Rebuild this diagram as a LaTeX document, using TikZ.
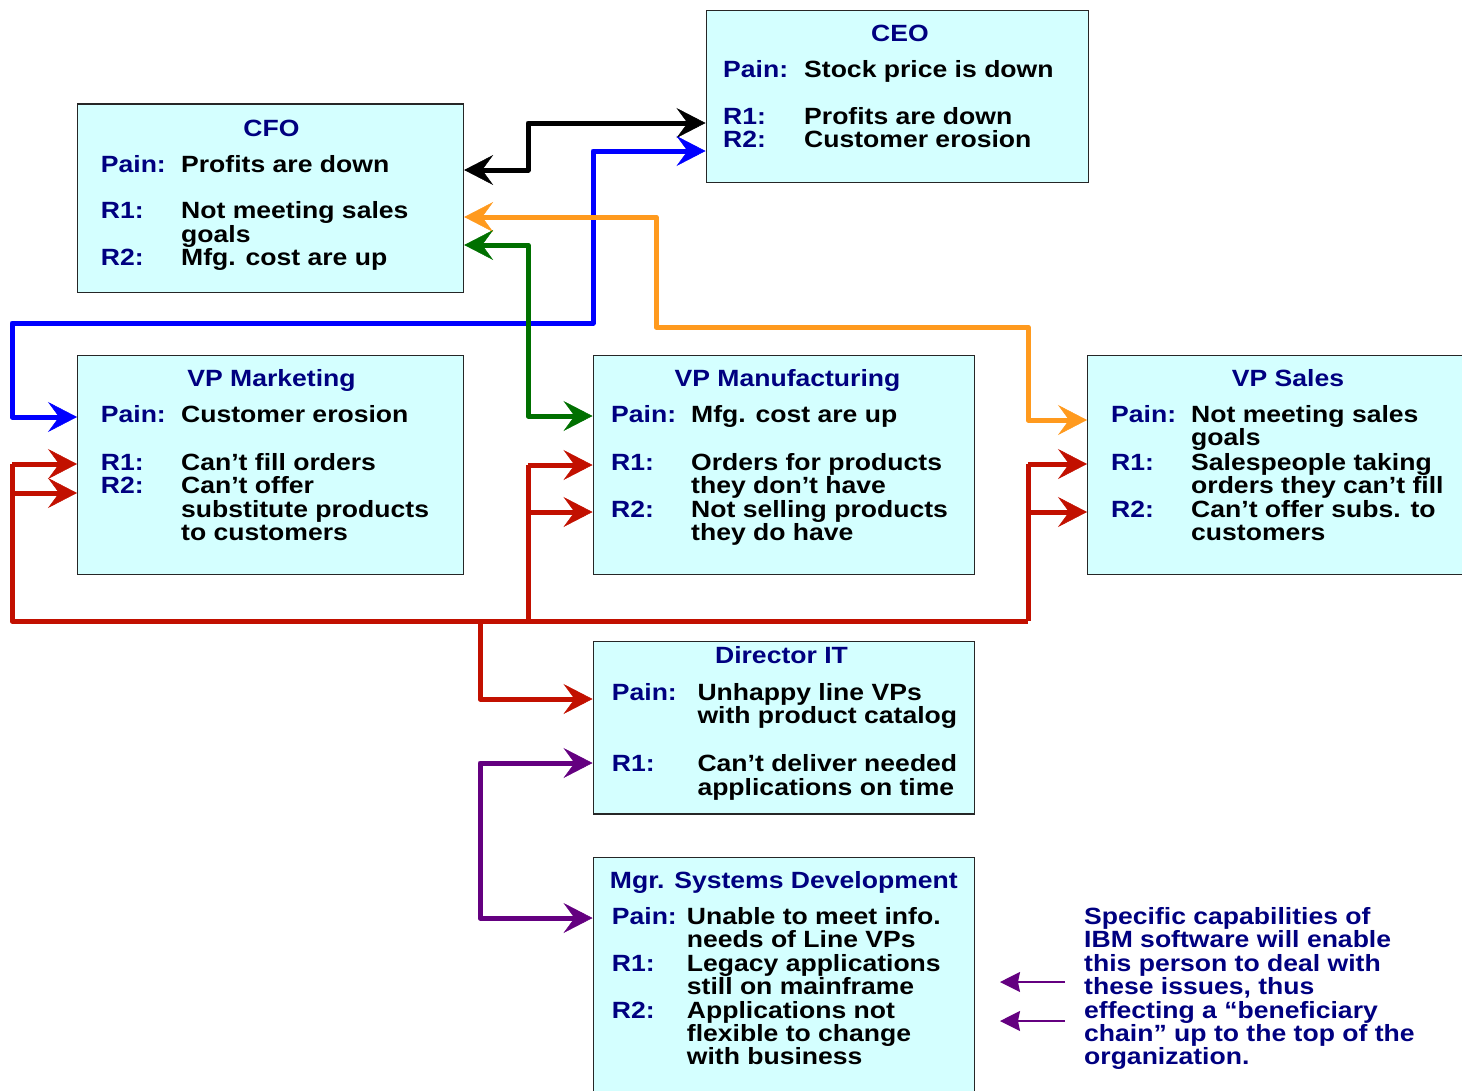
\documentclass[tikz,border=0pt]{standalone}
\usepackage{fontspec}
\setmainfont{Liberation Sans}[FakeStretch=1.13]
\usetikzlibrary{arrows.meta}

\definecolor{boxfill}{HTML}{D4FFFF}
\definecolor{navy}{HTML}{000080}
\definecolor{cblue}{HTML}{0000FF}
\definecolor{corange}{HTML}{FF9A1E}
\definecolor{cgreen}{HTML}{007000}
\definecolor{cred}{HTML}{C21000}
\definecolor{cpurple}{HTML}{640080}

% stacked lines, baseline of the box = baseline of the first line
\newcommand\ml[1]{\vtop{\lineskiplimit=-100pt\let\\\cr\halign{##\hfil\cr#1\crcr}}}

\tikzset{
  role/.style={draw=black!85, line width=1.2pt, fill=boxfill, anchor=north west, inner sep=0pt},
  head/.style={text=navy, anchor=base, inner sep=0pt},
  lab/.style={text=navy, anchor=base west, inner sep=0pt},
  txt/.style={text=black, anchor=base west, inner sep=0pt},
  tip/.tip={Stealth[length=29pt,width=30pt,inset=11pt,line width=0.5pt]},
  link/.style={line width=5pt, line join=round, tip-tip},
  feed/.style={line width=5pt, line join=round, -tip},
  bus/.style={line width=5pt, line join=round},
  hint/.style={line width=1.5pt, cpurple, -{Stealth[length=20pt,width=20pt,inset=2pt]}},
}

\begin{document}
\begin{tikzpicture}[x=1pt, y=-1pt, font=\fontsize{23.5}{23.4}\selectfont\bfseries]
\clip (0,0) rectangle (1462,1090);

% ---------- role boxes ----------
\node[role, minimum width=382pt, minimum height=172pt]   (ceo)   at (705.5,9.5) {};
\node[role, minimum width=386pt, minimum height=188.5pt] (cfo)   at (77,103.3) {};
\node[role, minimum width=386pt, minimum height=219.5pt] (mkt)   at (77,354.5) {};
\node[role, minimum width=381.5pt, minimum height=219.5pt] (mfg) at (592.5,354.5) {};
\node[role, minimum width=402pt, minimum height=219.5pt] (sales) at (1087,354.5) {};
\node[role, minimum width=381.5pt, minimum height=172.3pt] (dit) at (592.5,641) {};
\node[role, minimum width=381.5pt, minimum height=243pt] (msd)   at (592.5,857) {};

% ---------- CEO ----------
\node[head] (ceoT) at (900,41.7) {CEO};
\node[lab] (ceoP)  at (723,77.7) {Pain:};
\node[txt] (ceoPt) at (804,77.7) {Stock price is down};
\node[lab] (ceoR)  at (723,124.3) {\ml{R1:\\R2:}};
\node[txt] (ceoRt) at (804,124.3) {\ml{Profits are down\\Customer erosion}};

% ---------- CFO ----------
\node[head] (cfoT) at (271.5,136) {CFO};
\node[lab] (cfoP)   at (100.7,172) {Pain:};
\node[txt] (cfoPt)  at (181,172) {Profits are down};
\node[lab] (cfoR1)  at (100.7,218.7) {R1:};
\node[txt] (cfoR1t) at (181,218.7) {\ml{Not meeting sales\\goals}};
\node[lab] (cfoR2)  at (100.7,265.5) {R2:};
\node[txt] (cfoR2t) at (181,265.5) {Mfg. cost are up};

% ---------- VP Marketing ----------
\node[head] (mktT) at (271.5,386.5) {VP Marketing};
\node[lab] (mktP)  at (100.7,422.5) {Pain:};
\node[txt] (mktPt) at (181,422.5) {Customer erosion};
\node[lab] (mktR)  at (100.7,470.5) {\ml{R1:\\R2:}};
\node[txt] (mktRt) at (181,470.5) {\ml{Can’t fill orders\\Can’t offer\\substitute products\\to customers}};

% ---------- VP Manufacturing ----------
\node[head] (mfgT) at (787.5,386.5) {VP Manufacturing};
\node[lab] (mfgP)   at (611,422.5) {Pain:};
\node[txt] (mfgPt)  at (691,422.5) {Mfg. cost are up};
\node[lab] (mfgR1)  at (611,470.5) {R1:};
\node[txt] (mfgR1t) at (691,470.5) {\ml{Orders for products\\they don’t have}};
\node[lab] (mfgR2)  at (611,517.3) {R2:};
\node[txt] (mfgR2t) at (691,517.3) {\ml{Not selling products\\they do have}};

% ---------- VP Sales ----------
\node[head] (salT) at (1288,386.5) {VP Sales};
\node[lab] (salP)   at (1111,422.5) {Pain:};
\node[txt] (salPt)  at (1191,422.5) {\ml{Not meeting sales\\goals}};
\node[lab] (salR1)  at (1111,470.5) {R1:};
\node[txt] (salR1t) at (1191,470.5) {\ml{Salespeople taking\\orders they can’t fill}};
\node[lab] (salR2)  at (1111,517.3) {R2:};
\node[txt] (salR2t) at (1191,517.3) {\ml{Can’t offer subs. to\\customers}};

% ---------- Director IT ----------
\node[head] (ditT) at (781.5,663) {Director IT};
\node[lab] (ditP)  at (611.7,700) {Pain:};
\node[txt] (ditPt) at (697.3,700) {\ml{Unhappy line VPs\\with product catalog}};
\node[lab] (ditR)  at (611.7,771.7) {R1:};
\node[txt] (ditRt) at (697.3,771.7) {\ml{Can’t deliver needed\\applications on time}};

% ---------- Mgr. Systems Development ----------
\node[head] (msdT) at (msd.north |- 0,888) {Mgr. Systems Development};
\node[lab] (msdP)   at (611.7,924.5) {Pain:};
\node[txt] (msdPt)  at (686.7,924.5) {\ml{Unable to meet info.\\needs of Line VPs}};
\node[lab] (msdR1)  at (611.7,971.3) {R1:};
\node[txt] (msdR1t) at (686.7,971.3) {\ml{Legacy applications\\still on mainframe}};
\node[lab] (msdR2)  at (611.7,1018.1) {R2:};
\node[txt] (msdR2t) at (686.7,1018.1) {\ml{Applications not\\flexible to change\\with business}};

% ---------- side note ----------
\node[lab] (note) at (1084,924.5) {\ml{Specific capabilities of\\IBM software will enable\\this person to deal with\\these issues, thus\\effecting a “beneficiary\\chain” up to the top of the\\organization.}};
\coordinate (h1s) at (1065,982);
\coordinate (h1e) at (1000,982);
\coordinate (h2s) at (1065,1021);
\coordinate (h2e) at (1000,1021);
\draw[hint] (h1s) -- (h1e);
\draw[hint] (h2s) -- (h2e);

% ---------- connectors ----------
% CFO <-> CEO
\draw[link, black] (cfo.east |- 0,170) -- (528,170) -- (528,123) -- (ceo.west |- 0,123);
% VP Marketing <-> CEO
\draw[link, cblue] (mkt.west |- 0,417) -- (12,417) -- (12,323) -- (593,323) -- (593,151) -- (ceo.west |- 0,151);
% CFO <-> VP Sales
\draw[link, corange] (cfo.east |- 0,217) -- (656,217) -- (656,327) -- (1028,327) -- (1028,420) -- (sales.west |- 0,420);
% CFO <-> VP Manufacturing
\draw[link, cgreen] (cfo.east |- 0,245) -- (528,245) -- (528,416) -- (mfg.west |- 0,416);

% Director IT -> VPs (red tree)
\draw[bus, cred] (12,464) -- (12,621) -- (1028,621);
\draw[bus, cred] (528,465) -- (528,621);
\draw[bus, cred] (1028,464) -- (1028,621);
\draw[feed, cred] (12,464) -- (mkt.west |- 0,464);
\draw[feed, cred] (12,493) -- (mkt.west |- 0,493);
\draw[feed, cred] (528,465) -- (mfg.west |- 0,465);
\draw[feed, cred] (528,512) -- (mfg.west |- 0,512);
\draw[feed, cred] (1028,464) -- (sales.west |- 0,464);
\draw[feed, cred] (1028,512) -- (sales.west |- 0,512);
\draw[feed, cred] (480,621) -- (480,699) -- (dit.west |- 0,699);

% Director IT <-> Mgr. Systems Development
\draw[link, cpurple] (dit.west |- 0,763) -- (480,763) -- (480,918) -- (msd.west |- 0,918);
\end{tikzpicture}
\end{document}
